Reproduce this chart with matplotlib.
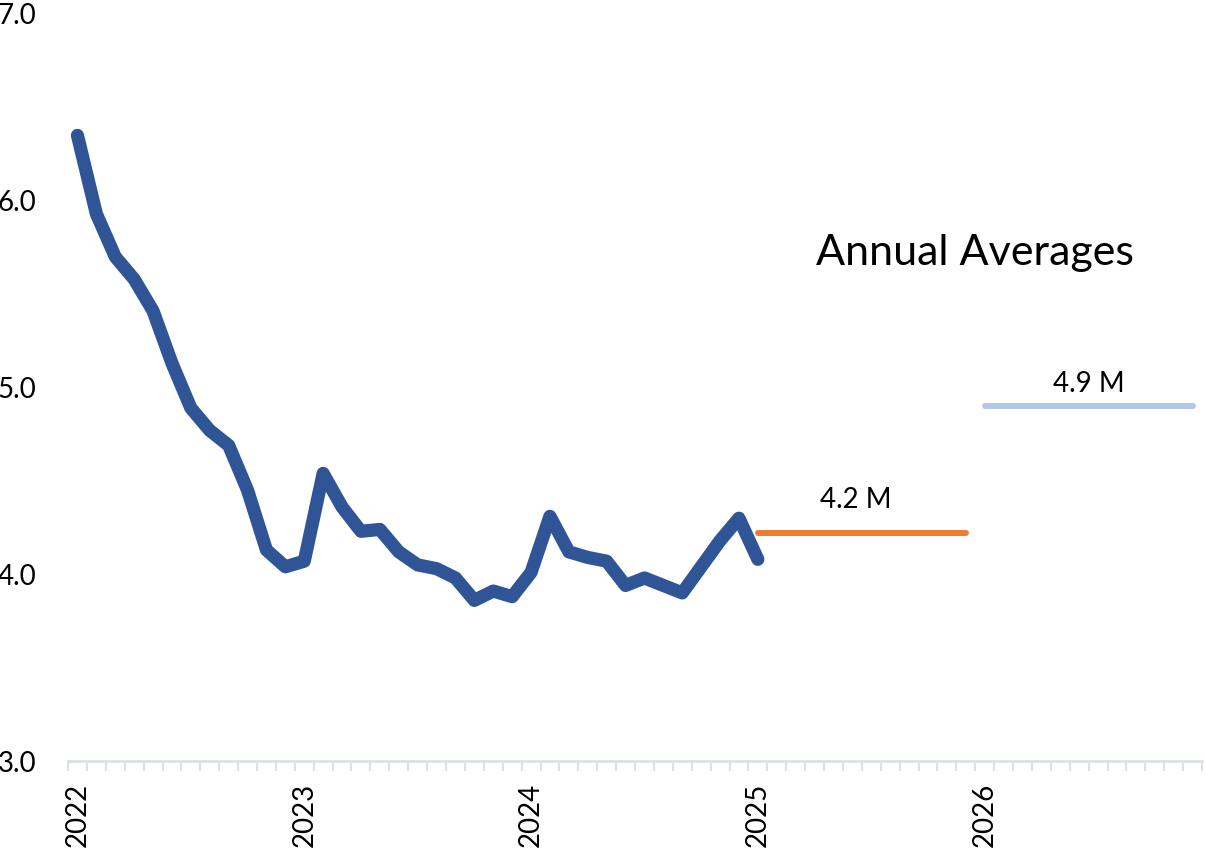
import numpy as np
import matplotlib.pyplot as plt

plt.rcParams['font.family'] = ['Lato', 'DejaVu Sans']

# monthly values, Jan 2022 .. Jan 2025
monthly = [6.35, 5.93, 5.70, 5.58, 5.41, 5.13, 4.89, 4.77, 4.69, 4.45, 4.13, 4.04,
           4.07, 4.54, 4.36, 4.23, 4.24, 4.12, 4.05, 4.03, 3.98, 3.86, 3.91, 3.88,
           4.01, 4.31, 4.12, 4.09, 4.07, 3.94, 3.98, 3.94, 3.90, 4.04, 4.18, 4.30, 4.08]
years = ['2022', '2023', '2024', '2025', '2026']
avg_years = [2025, 2026]
avg_values = [4.22, 4.9]
avg_labels = ['4.2 M', '4.9 M']
avg_colors = ['#ED7D31', '#B4C7E7']
yticks = [3.0, 4.0, 5.0, 6.0, 7.0]

n_months = 12 * len(years)
axis_col = '#DCE0EA'

fig = plt.figure(figsize=(12.05, 8.51), dpi=100)
ax = fig.add_axes([68 / 1205, 90 / 851, 1134 / 1205, 747 / 851])

ax.plot(np.arange(len(monthly)), monthly, color='#2F5597', lw=9.5,
        solid_capstyle='round', solid_joinstyle='round')

for yr, val, lab, col in zip(avg_years, avg_values, avg_labels, avg_colors):
    start = (yr - 2022) * 12
    xs = np.arange(start, start + 12)
    ax.plot(xs, np.full(len(xs), val), color=col, lw=4.3, solid_capstyle='round')

ax.text(41.2, 4.40, avg_labels[0], ha='center', va='center', fontsize=20)
ax.text(53.5, 5.02, avg_labels[1], ha='center', va='center', fontsize=20)
ax.text(47.5, 5.72, 'Annual Averages', ha='center', va='center', fontsize=31)

ax.set_xlim(-0.5, n_months - 0.5)
ax.set_ylim(3.0, 7.0)

ax.set_yticks(yticks)
ax.set_yticklabels(['%.1f' % v for v in yticks], fontsize=20)
ax.tick_params(axis='y', length=0, pad=23)

ax.set_xticks(np.arange(0, n_months, 12))
ax.set_xticklabels(years, rotation=90, fontsize=20)
ax.set_xticks(np.arange(-0.5, n_months, 1), minor=True)
ax.tick_params(axis='x', which='major', length=0, pad=16)
ax.tick_params(axis='x', which='minor', length=7.5, width=1.5, color=axis_col)

for s in ['top', 'right', 'left']:
    ax.spines[s].set_visible(False)
ax.spines['bottom'].set_color(axis_col)
ax.spines['bottom'].set_linewidth(2)

fig.savefig('out.png', dpi=100)
